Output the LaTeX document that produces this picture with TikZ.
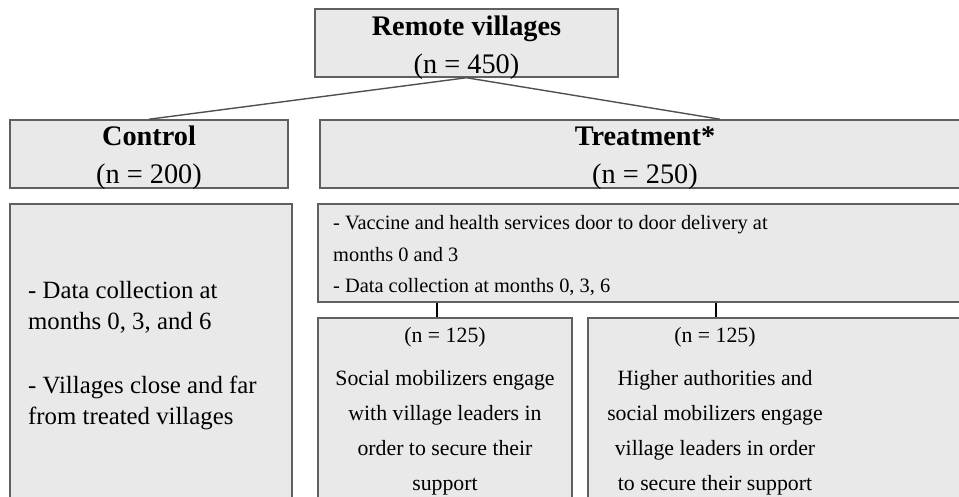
\documentclass[tikz,border=0pt]{standalone}
\usepackage{fontspec}
\setmainfont{Liberation Serif}
\definecolor{boxfill}{HTML}{E9E9E9}
\definecolor{boxline}{HTML}{606060}
\definecolor{linkcol}{HTML}{505050}
\begin{document}
\begin{tikzpicture}[x=1pt,y=-1pt,
  box/.style={draw=boxline, fill=boxfill, line width=1.5pt, rectangle, inner sep=0pt},
  hdr/.style={inner sep=0pt, font=\fontsize{28.3}{38}\selectfont, align=center, anchor=base},
  ltxt/.style={inner sep=0pt, font=\fontsize{20.4}{31.5}\selectfont, align=left, anchor=base west},
  ctxt/.style={inner sep=0pt, font=\fontsize{21.8}{35}\selectfont, align=center, anchor=base},
  link/.style={draw=linkcol, line width=1.4pt},
  vlink/.style={draw=black, line width=1.4pt}]
\useasboundingbox (0,0) rectangle (959,497);
\clip (0,0) rectangle (959,497);
% helper coordinates
\coordinate (tj) at (720,0);
\coordinate (v1) at (437,0);
\coordinate (v2) at (716,0);
% boxes
\node[box, minimum width=303pt, minimum height=68pt] (top) at (466.5,43) {};
\node[box, minimum width=278pt, minimum height=68pt] (ctrl) at (149,154) {};
\node[box, minimum width=645pt, minimum height=68pt] (treat) at (642.5,154) {};
\node[box, minimum width=282pt, minimum height=316pt] (cdet) at (151,362) {};
\node[box, minimum width=647pt, minimum height=98pt] (tdet) at (641.5,253) {};
\node[box, minimum width=254pt, minimum height=202pt] (soc) at (445,419) {};
\node[box, minimum width=377pt, minimum height=202pt] (auth) at (776.5,419) {};
% connectors
\draw[link] (top.south) -- (ctrl.north);
\draw[link] (top.south) -- (treat.north -| tj);
\draw[vlink] (tdet.south -| v1) -- (soc.north -| v1);
\draw[vlink] (tdet.south -| v2) -- (auth.north -| v2);
% texts (anchor base = baseline of the last line)
\node[hdr] (toptxt) at (466.5,74) {\textbf{Remote villages}\\(n = 450)};
\node[hdr] (ctrltxt) at (149,184) {\textbf{Control}\\(n = 200)};
\node[hdr] (treattxt) at (645,184) {\textbf{Treatment*}\\(n = 250)};
\node[ltxt] (tdettxt) at (333,293) {- Vaccine and health services door to door delivery at\\months 0 and 3\\- Data collection at months 0, 3, 6};
\node[ltxt, font=\fontsize{24.8}{30.5}\selectfont] (cdettxt) at (28,424) {- Data collection at\\months 0, 3, and 6\\[34pt]- Villages close and far\\from treated villages};
\node[ctxt] (soctxt) at (445,490) {(n = 125)\\[8pt]Social mobilizers engage\\with village leaders in\\order to secure their\\support};
\node[ctxt] (authtxt) at (715,490) {(n = 125)\\[8pt]Higher authorities and\\social mobilizers engage\\village leaders in order\\to secure their support};
\end{tikzpicture}
\end{document}
